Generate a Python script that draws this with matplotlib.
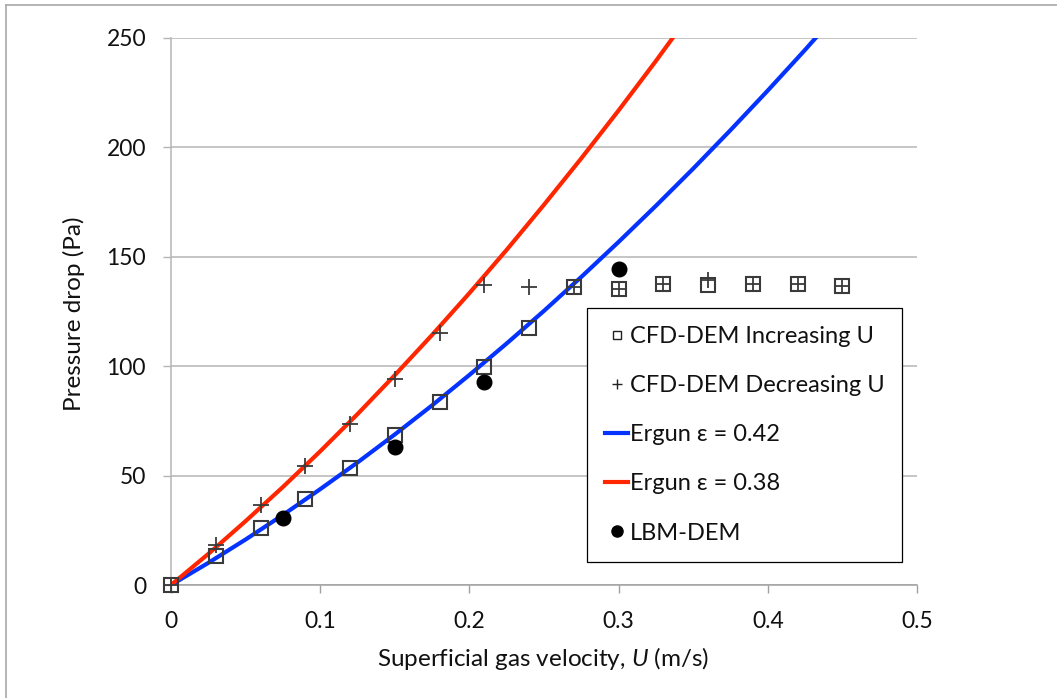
import matplotlib
matplotlib.use("Agg")
import matplotlib.pyplot as plt
from matplotlib.lines import Line2D

# ---------------- data ----------------
u_cfd = [0.0, 0.03, 0.06, 0.09, 0.12, 0.15, 0.18, 0.21, 0.24, 0.27,
         0.30, 0.33, 0.36, 0.39, 0.42, 0.45]
dp_increasing = [0.0, 13.2, 26.2, 39.3, 53.3, 68.6, 83.8, 99.8, 117.3, 136.0,
                 135.3, 137.4, 137.1, 137.4, 137.4, 136.8]
dp_decreasing = [0.0, 18.3, 36.6, 54.5, 73.6, 94.0, 115.0, 137.1, 136.3, 136.0,
                 135.3, 137.4, 139.3, 137.4, 137.4, 136.8]

u_lbm = [0.075, 0.15, 0.21, 0.30]
dp_lbm = [30.5, 63.2, 92.9, 144.4]

u_ergun_042 = [0.0, 0.025, 0.05, 0.075, 0.1, 0.125, 0.15, 0.175, 0.2, 0.225,
               0.25, 0.275, 0.3, 0.325, 0.35, 0.375, 0.4, 0.425, 0.45]
dp_ergun_042 = [0.0, 10.1, 20.8, 32.0, 43.8, 56.0, 68.8, 82.1, 96.0, 110.4,
                125.3, 140.8, 156.8, 173.3, 190.3, 207.9, 226.0, 244.6, 263.8]

u_ergun_038 = [0.0, 0.025, 0.05, 0.075, 0.1, 0.125, 0.15, 0.175, 0.2, 0.225,
               0.25, 0.275, 0.3, 0.325, 0.35]
dp_ergun_038 = [0.0, 14.2, 29.2, 44.8, 61.1, 78.1, 95.9, 114.3, 133.4, 153.2,
                173.8, 195.0, 216.9, 239.5, 262.9]

x_ticks = [0, 0.1, 0.2, 0.3, 0.4, 0.5]
x_tick_labels = ["0", "0.1", "0.2", "0.3", "0.4", "0.5"]
y_ticks = [0, 50, 100, 150, 200, 250]

labels = ["CFD-DEM Increasing U", "CFD-DEM Decreasing U",
          "Ergun \u03b5 = 0.42", "Ergun \u03b5 = 0.38", "LBM-DEM"]

# ---------------- style ----------------
plt.rcParams['font.family'] = ['Lato', 'DejaVu Sans']
plt.rcParams['mathtext.fontset'] = 'custom'
plt.rcParams['mathtext.rm'] = 'Lato'
plt.rcParams['mathtext.it'] = 'Lato:italic'

W, H = 1057, 698
fig = plt.figure(figsize=(W / 100, H / 100), dpi=100)
fig.patch.set_facecolor('white')

# light frame around the chart area (left and top visible)
frame_col = '#a8a8a8'
fig.add_artist(Line2D([6 / W, 6 / W], [0, 1 - 5 / H], transform=fig.transFigure,
                      color=frame_col, lw=1.2))
fig.add_artist(Line2D([6 / W, 1], [1 - 5 / H, 1 - 5 / H], transform=fig.transFigure,
                      color=frame_col, lw=1.2))

left, right, top, bottom = 171, 917, 38, 585
ax = fig.add_axes([left / W, 1 - bottom / H, (right - left) / W, (bottom - top) / H])

grid_col = '#b5b5b5'
ax.set_xlim(0, 0.5)
ax.set_ylim(0, 250)
ax.set_yticks(y_ticks)
ax.set_xticks(x_ticks)
ax.set_xticklabels(x_tick_labels)
ax.yaxis.grid(True, color=grid_col, lw=1.1)
ax.set_axisbelow(True)
for s in ['top', 'right']:
    ax.spines[s].set_visible(False)
ax.spines['left'].set_color(grid_col)
ax.spines['bottom'].set_color('#a0a0a0')
ax.spines['left'].set_linewidth(1.1)
ax.spines['bottom'].set_linewidth(1.1)
ax.tick_params(axis='x', direction='out', length=6, width=1.0, color='#a0a0a0',
               pad=13, labelsize=16.5, labelcolor='#111111')
ax.tick_params(axis='y', direction='out', length=6, width=1.0, color=grid_col,
               pad=12, labelsize=16.5, labelcolor='#111111')

blue = '#0433FF'
red = '#FF2600'
mk_col = '#3a3a3a'

ax.plot(u_ergun_042, dp_ergun_042, color=blue, lw=3.0, zorder=3)
ax.plot(u_ergun_038, dp_ergun_038, color=red, lw=3.0, zorder=3)
ax.plot(u_cfd, dp_increasing, ls='none', marker='s', ms=10.5, mfc='none',
        mec=mk_col, mew=1.5, zorder=4, clip_on=False)
ax.plot(u_cfd, dp_decreasing, ls='none', marker='+', ms=11, mec=mk_col,
        mew=1.3, zorder=4, clip_on=False)
ax.plot(u_lbm, dp_lbm, ls='none', marker='o', ms=10.5, mfc='black',
        mec='black', zorder=5, clip_on=False)

fig.text(543 / W, 1 - 659 / H, "Superficial gas velocity, $\\mathit{U}$ (m/s)",
         fontsize=17.5, color='#111111', ha='center', va='center')
fig.text(74 / W, 1 - 314 / H, "Pressure drop (Pa)", rotation=90,
         fontsize=17.5, color='#111111', ha='center', va='center')

# legend
handles = [
    Line2D([], [], ls='none', marker='s', ms=6, mfc='none', mec='#222222', mew=1.0),
    Line2D([], [], ls='none', marker='+', ms=7, mec='#222222', mew=1.0),
    Line2D([], [], color=blue, lw=3),
    Line2D([], [], color=red, lw=3),
    Line2D([], [], ls='none', marker='o', ms=8, mfc='black', mec='black'),
]
leg = fig.legend(handles, labels, loc='upper left',
                 bbox_to_anchor=(587 / W, 1 - 308 / H), borderaxespad=0,
                 frameon=True, fancybox=False, edgecolor='black', framealpha=1,
                 fontsize=17, handlelength=0.98, handletextpad=0.05,
                 labelspacing=1.19, borderpad=0.77, numpoints=1)
leg.get_frame().set_linewidth(0.9)
for t in leg.get_texts():
    t.set_color('#111111')

fig.savefig('out.png', dpi=100)
